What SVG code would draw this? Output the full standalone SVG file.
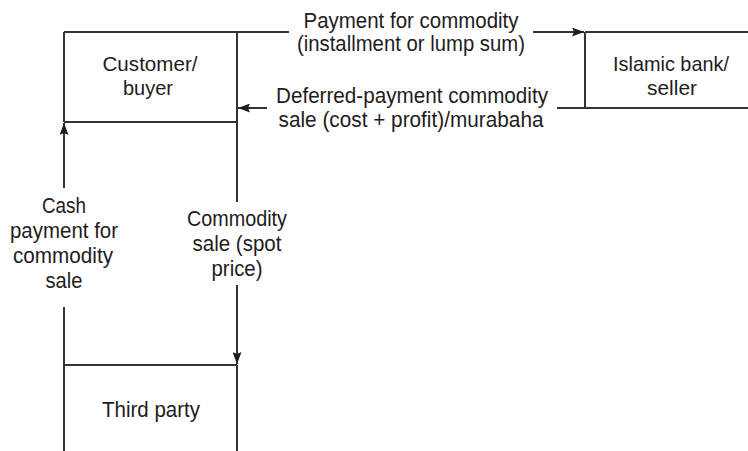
<svg xmlns="http://www.w3.org/2000/svg" width="748" height="451" viewBox="0 0 748 451">
<style>
.ln{stroke:#333333;stroke-width:2;fill:none}
.t{font-family:"Liberation Sans",Arial,sans-serif;font-size:22px;fill:#1f1c1d;text-anchor:middle}
.b{font-size:21px}
</style>
<defs>
<marker id="ah" viewBox="0 0 12 9" refX="12" refY="4.5" markerWidth="12" markerHeight="9" markerUnits="userSpaceOnUse" orient="auto">
<path d="M0,0 L12,4.5 L0,9 L2,4.5 Z" fill="#1f1c1d"/>
</marker>
</defs>
<rect width="748" height="451" fill="#ffffff"/>
<g id="customer">
<path class="ln" d="M64,32 H237 M64,32 V122 M64,122 H237 M237,32 V122"/>
<text class="t b" x="150" y="71" textLength="95" lengthAdjust="spacingAndGlyphs">Customer/</text>
<text class="t b" x="148" y="95" textLength="50" lengthAdjust="spacingAndGlyphs">buyer</text>
</g>
<g id="bank">
<path class="ln" d="M585,32 H748 M585,108 H748 M585,32 V108"/>
<text class="t b" x="671" y="71" textLength="116" lengthAdjust="spacingAndGlyphs">Islamic bank/</text>
<text class="t b" x="672" y="95" textLength="50" lengthAdjust="spacingAndGlyphs">seller</text>
</g>
<g id="thirdparty">
<path class="ln" d="M64,365 H237 M64,365 V451 M237,365 V451"/>
<text class="t" x="151" y="417" textLength="98" lengthAdjust="spacingAndGlyphs">Third party</text>
</g>
<g id="connectors">
<path class="ln" d="M237,32 H289"/>
<path class="ln" d="M533,32 H584" marker-end="url(#ah)"/>
<path class="ln" d="M585,108 H557"/>
<path class="ln" d="M267,108 H238" marker-end="url(#ah)"/>
<path class="ln" d="M64,188 V123" marker-end="url(#ah)"/>
<path class="ln" d="M64,307 V365"/>
<path class="ln" d="M237,122 V202"/>
<path class="ln" d="M237,285 V364" marker-end="url(#ah)"/>
<text class="t" x="411" y="28" textLength="215" lengthAdjust="spacingAndGlyphs">Payment for commodity</text>
<text class="t" x="411" y="51" textLength="228" lengthAdjust="spacingAndGlyphs">(installment or lump sum)</text>
<text class="t" x="412" y="103" textLength="272" lengthAdjust="spacingAndGlyphs">Deferred-payment commodity</text>
<text class="t" x="411" y="127" textLength="265" lengthAdjust="spacingAndGlyphs">sale (cost + profit)/murabaha</text>
<text class="t" x="64" y="213" textLength="44" lengthAdjust="spacingAndGlyphs">Cash</text>
<text class="t" x="64" y="238" textLength="108" lengthAdjust="spacingAndGlyphs">payment for</text>
<text class="t" x="63" y="263" textLength="100" lengthAdjust="spacingAndGlyphs">commodity</text>
<text class="t" x="64" y="288" textLength="37" lengthAdjust="spacingAndGlyphs">sale</text>
<text class="t" x="237" y="226" textLength="100" lengthAdjust="spacingAndGlyphs">Commodity</text>
<text class="t" x="237" y="251" textLength="89" lengthAdjust="spacingAndGlyphs">sale (spot</text>
<text class="t" x="237" y="276" textLength="51" lengthAdjust="spacingAndGlyphs">price)</text>
</g>
</svg>
